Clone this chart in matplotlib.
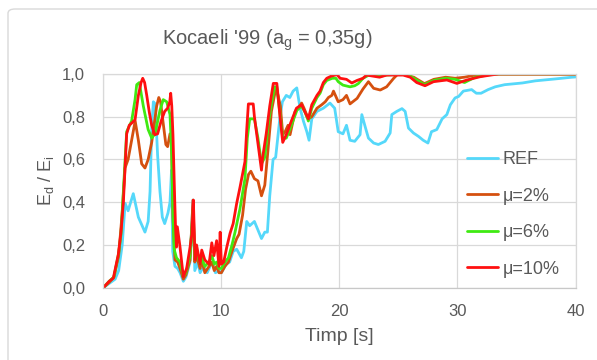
import matplotlib
matplotlib.use("Agg")
import matplotlib.pyplot as plt
from matplotlib import font_manager
from matplotlib.patches import FancyBboxPatch

names = {f.name for f in font_manager.fontManager.ttflist}
FONT = "Liberation Sans Narrow" if "Liberation Sans Narrow" in names else "Liberation Sans"
plt.rcParams["font.family"] = [FONT, "DejaVu Sans"]
plt.rcParams["mathtext.fontset"] = "custom"
plt.rcParams["mathtext.rm"] = FONT
plt.rcParams["mathtext.it"] = FONT
plt.rcParams["mathtext.default"] = "regular"

# ---------------- data ----------------
title = "Kocaeli '99 (a$_g$ = 0,35g)"
xlabel = "Timp [s]"
ylabel = "E$_d$ / E$_i$"
xticks = [0, 10, 20, 30, 40]
yticks = [0.0, 0.2, 0.4, 0.6, 0.8, 1.0]
ytick_labels = ["0,0", "0,2", "0,4", "0,6", "0,8", "1,0"]
labels = ["REF", "μ=2%", "μ=6%", "μ=10%"]
colors = ["#55D8FA", "#D5500F", "#3FEA12", "#FF1010"]

t_ref = [0, 0.5, 1.0, 1.3, 1.6, 1.85, 2.1, 2.54, 2.97, 3.53, 3.8, 3.96, 4.1, 4.24, 4.4,
         4.6, 4.8, 5.0, 5.2, 5.48, 5.65, 5.78, 5.88, 6.07, 6.3, 6.5, 6.78, 7.0, 7.35, 7.6,
         7.75, 8.0, 8.2, 8.5, 8.8, 9.2, 9.5, 9.8, 10.0, 10.4, 10.7, 11.0, 11.3, 11.7, 11.9,
         12.15, 12.4, 12.8, 13.1, 13.4, 13.68, 13.9, 14.1, 14.38, 14.6, 14.95, 15.17, 15.5,
         15.8, 16.08, 16.39, 16.67, 16.95, 17.24, 17.43, 17.66, 18.1, 18.64, 19.2, 19.6,
         19.9, 20.3, 20.6, 20.9, 21.3, 21.75, 21.9, 22.2, 22.46, 22.9, 23.3, 23.87, 24.3,
         24.44, 24.86, 25.3, 25.57, 25.85, 26.27, 26.7, 27.1, 27.5, 27.8, 28.25, 28.7,
         29.1, 29.4, 29.8, 30.1, 30.5, 31.2, 31.6, 32.0, 32.35, 32.6, 33.2, 34.0, 35.5,
         36.6, 38.3, 39.7, 40.0]
v_ref = [0.0, 0.02, 0.04, 0.08, 0.2, 0.395, 0.36, 0.44, 0.33, 0.26, 0.31, 0.45, 0.75, 0.87, 0.86,
         0.62, 0.45, 0.33, 0.30, 0.35, 0.40, 0.55, 0.17, 0.10, 0.09, 0.07, 0.03, 0.05, 0.12, 0.41,
         0.08, 0.12, 0.07, 0.10, 0.07, 0.12, 0.07, 0.08, 0.07, 0.11, 0.12, 0.17, 0.18, 0.14, 0.17,
         0.31, 0.29, 0.31, 0.27, 0.23, 0.26, 0.26, 0.43, 0.60, 0.61, 0.79, 0.87, 0.90,
         0.89, 0.92, 0.935, 0.84, 0.78, 0.73, 0.69, 0.79, 0.825, 0.84, 0.864, 0.84,
         0.73, 0.72, 0.76, 0.69, 0.685, 0.716, 0.81, 0.75, 0.70, 0.677, 0.67, 0.685, 0.724,
         0.81, 0.825, 0.838, 0.825, 0.747, 0.724, 0.708, 0.69, 0.677, 0.73, 0.74, 0.79,
         0.81, 0.856, 0.888, 0.895, 0.92, 0.927, 0.91, 0.91, 0.92, 0.927, 0.94, 0.95, 0.958,
         0.968, 0.977, 0.985, 0.986]

t_mu2 = [0, 0.5, 0.9, 1.3, 1.6, 1.84, 2.1, 2.4, 2.7, 2.97, 3.25, 3.53, 3.8, 4.1, 4.52, 4.7,
         4.85, 5.05, 5.3, 5.45, 5.65, 5.78, 5.9, 6.07, 6.3, 6.5, 6.78, 7.0, 7.35, 7.6, 7.75,
         7.9, 8.2, 8.34, 8.6, 8.96, 9.2, 9.4, 9.6, 9.8, 10.0, 10.3, 10.6, 10.9, 11.3, 11.5,
         11.8, 12.05, 12.3, 12.5, 12.8, 13.1, 13.4, 13.68, 13.96, 14.24, 14.5, 14.66, 15.0,
         15.2, 15.4, 15.65, 15.82, 16.25, 16.5, 16.8, 17.0, 17.37, 17.66, 18.1, 18.5, 18.8,
         19.07, 19.36, 19.5, 19.9, 20.3, 20.6, 20.9, 21.5, 22.0, 22.46, 22.9, 23.46, 24.0,
         24.6, 24.9, 25.5, 26.3, 27.2, 28.0, 29.0, 29.8, 30.6, 31.5, 32.5, 40.0]
v_mu2 = [0.0, 0.025, 0.05, 0.15, 0.35, 0.56, 0.60, 0.69, 0.78, 0.69, 0.58, 0.56, 0.60, 0.68, 0.85, 0.89,
         0.87, 0.78, 0.67, 0.66, 0.72, 0.68, 0.33, 0.13, 0.12, 0.09, 0.04, 0.06, 0.13, 0.41, 0.12,
         0.15, 0.09, 0.13, 0.07, 0.10, 0.12, 0.08, 0.10, 0.07, 0.07, 0.10, 0.12, 0.17, 0.23, 0.25,
         0.34, 0.46, 0.53, 0.545, 0.51, 0.50, 0.43, 0.48, 0.65, 0.825, 0.90, 0.935, 0.85,
         0.716, 0.73, 0.76, 0.716, 0.825, 0.84, 0.864, 0.84, 0.79, 0.80, 0.84, 0.856, 0.87,
         0.89, 0.90, 0.92, 0.87, 0.88, 0.90, 0.86, 0.886, 0.93, 0.964, 0.933, 0.925, 0.94,
         0.98, 0.997, 0.997, 0.985, 0.955, 0.975, 0.985, 0.98, 0.985, 0.995, 1.0, 1.0]

t_mu6 = [0, 0.5, 0.9, 1.3, 1.5, 1.7, 1.98, 2.4, 2.69, 2.83, 3.05, 3.39, 3.8, 4.1, 4.38, 4.8,
         5.08, 5.37, 5.65, 5.8, 5.88, 6.0, 6.2, 6.5, 6.78, 7.0, 7.35, 7.6, 7.75, 7.9, 8.2,
         8.34, 8.6, 8.96, 9.2, 9.4, 9.6, 9.8, 10.0, 10.3, 10.6, 10.9, 11.16, 11.58, 12.0,
         12.2, 12.4, 12.8, 13.1, 13.4, 13.68, 13.96, 14.24, 14.5, 14.7, 14.95, 15.2, 15.5,
         15.93, 16.4, 16.8, 17.1, 17.37, 17.66, 18.1, 18.36, 18.64, 18.93, 19.4, 19.7, 19.9,
         20.3, 20.9, 21.3, 21.6, 22.0, 22.5, 23.5, 24.0, 25.3, 26.0, 26.6, 27.2, 28.0, 29.0,
         29.8, 30.6, 31.5, 32.5, 33.5, 40.0]
v_mu6 = [0.0, 0.03, 0.05, 0.16, 0.25, 0.45, 0.73, 0.78, 0.88, 0.95, 0.96, 0.85, 0.74, 0.70, 0.72, 0.83,
         0.88, 0.87, 0.81, 0.62, 0.40, 0.18, 0.14, 0.12, 0.05, 0.07, 0.15, 0.36, 0.13, 0.17, 0.11,
         0.14, 0.10, 0.12, 0.15, 0.11, 0.12, 0.09, 0.09, 0.12, 0.14, 0.20, 0.26, 0.37, 0.51,
         0.70, 0.79, 0.79, 0.70, 0.58, 0.61, 0.76, 0.86, 0.94, 0.94, 0.82, 0.70, 0.70,
         0.76, 0.83, 0.85, 0.82, 0.78, 0.84, 0.89, 0.91, 0.95, 0.97, 0.98, 0.98, 0.964,
         0.948, 0.94, 0.945, 0.955, 0.98, 0.995, 0.99, 0.995, 1.0, 0.99, 0.97, 0.95, 0.97, 0.98,
         0.975, 0.96, 0.985, 0.995, 1.0, 1.0]

t_mu10 = [0, 0.5, 0.85, 1.27, 1.5, 1.7, 1.98, 2.2, 2.4, 2.69, 2.97, 3.2, 3.34, 3.5, 3.68, 3.9,
          4.1, 4.36, 4.6, 4.9, 5.2, 5.45, 5.63, 5.71, 5.8, 5.9, 6.05, 6.12, 6.2, 6.27, 6.5,
          6.78, 7.06, 7.35, 7.5, 7.63, 7.77, 7.9, 8.2, 8.34, 8.6, 8.96, 9.19, 9.37, 9.6, 9.8,
          9.9, 10.0, 10.2, 10.46, 10.74, 11.0, 11.3, 11.58, 11.86, 12.0, 12.15, 12.29, 12.7,
          12.8, 13.1, 13.4, 13.5, 13.8, 14.1, 14.4, 14.7, 14.97, 15.2, 15.5, 15.93, 16.36,
          16.8, 17.1, 17.37, 17.66, 18.1, 18.36, 18.64, 18.93, 19.3, 19.8, 20.06, 20.6, 21.05,
          21.5, 22.0, 22.3, 23.4, 24.0, 25.4, 26.0, 26.55, 27.25, 27.97, 29.1, 29.95, 30.8,
          31.9, 32.8, 33.5, 40.0]
v_mu10 = [0.0, 0.03, 0.045, 0.155, 0.26, 0.40, 0.72, 0.76, 0.77, 0.786, 0.90, 0.96, 0.98, 0.96, 0.90, 0.82,
          0.76, 0.716, 0.72, 0.78, 0.825, 0.84, 0.87, 0.91, 0.85, 0.716, 0.41, 0.28, 0.19, 0.285, 0.19,
          0.05, 0.09, 0.19, 0.25, 0.41, 0.13, 0.20, 0.11, 0.176, 0.13, 0.11, 0.21, 0.15, 0.22, 0.10,
          0.26, 0.11, 0.12, 0.19, 0.255, 0.30, 0.395, 0.47, 0.55, 0.59, 0.74, 0.86, 0.86,
          0.80, 0.675, 0.55, 0.61, 0.72, 0.85, 0.956, 0.956, 0.80, 0.68, 0.716, 0.78, 0.84,
          0.856, 0.82, 0.79, 0.856, 0.90, 0.92, 0.96, 0.98, 0.99, 0.997, 0.98, 0.975, 0.958,
          0.97, 0.98, 0.995, 0.985, 0.995, 0.995, 0.985, 0.96, 0.945, 0.964, 0.972, 0.956, 0.972,
          0.987, 0.995, 1.0, 1.0]

series_t = [t_ref, t_mu2, t_mu6, t_mu10]
series_v = [v_ref, v_mu2, v_mu6, v_mu10]

# ---------------- figure ----------------
W, H = 597, 360
fig = plt.figure(figsize=(W / 100, H / 100), dpi=100)
fig.patch.set_facecolor("white")

border = FancyBboxPatch((8 / W, -0.1), 1.2, 1 - 9 / H + 0.1,
                        boxstyle="round,pad=0,rounding_size=0.012",
                        transform=fig.transFigure, facecolor="none",
                        edgecolor="#D9D9D9", lw=1.0, zorder=0)
fig.patches.append(border)

L, R, T, B = 103.3, 575.5, 74.0, 287.7
ax = fig.add_axes([L / W, 1 - B / H, (R - L) / W, (B - T) / H])

for t, v, c, lab in zip(series_t, series_v, colors, labels):
    ax.plot(t, v, color=c, lw=2.0, label=lab, solid_joinstyle="round", solid_capstyle="round")

ax.set_xlim(0, 40)
ax.set_ylim(0, 1.0)
ax.set_xticks(xticks)
ax.set_xticklabels([str(x) for x in xticks])
ax.set_yticks(yticks)
ax.set_yticklabels(ytick_labels)
ax.grid(True, color="#D9D9D9", lw=0.9)
ax.set_axisbelow(True)
for s in ax.spines.values():
    s.set_color("#D9D9D9")
    s.set_linewidth(0.9)
ax.spines["bottom"].set_color("#C8C8C8")
ax.tick_params(length=0, labelsize=12, colors="#595959")
ax.tick_params(axis="y", pad=13)
ax.tick_params(axis="x", pad=12)

ax.set_xlabel(xlabel, fontsize=14, color="#595959", labelpad=6)
ax.set_ylabel(ylabel, fontsize=13, color="#595959")
ax.yaxis.set_label_coords((56 - L) / (R - L), 0.5)

fig.text(267 / W, 1 - 40 / H, title, ha="center", va="center", fontsize=14.5, color="#595959")

leg = ax.legend(loc="upper left", bbox_to_anchor=(466.7 / W, 1 - 151 / H),
                bbox_transform=fig.transFigure, frameon=False, fontsize=13,
                handlelength=1.74, handletextpad=0.26, labelspacing=1.08,
                borderpad=0, borderaxespad=0)
for txt in leg.get_texts():
    txt.set_color("#595959")

fig.savefig("out.png", dpi=100, facecolor="white")
